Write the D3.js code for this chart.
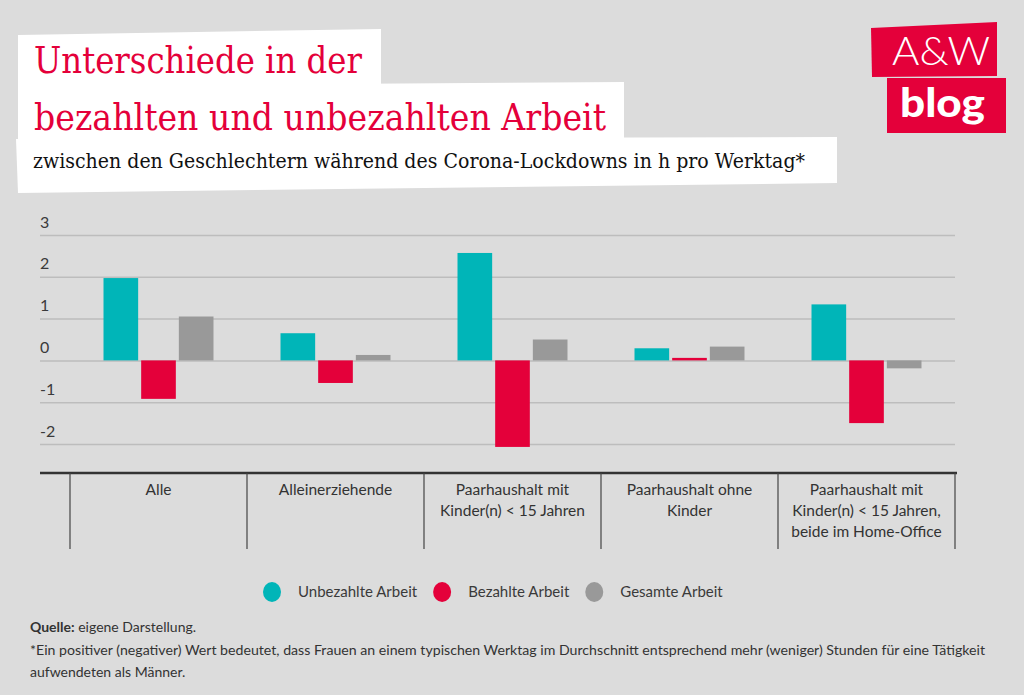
<!DOCTYPE html>
<html>
<head>
<meta charset="utf-8">
<script src="https://cdn.jsdelivr.net/npm/d3@7"></script>
<style>
  html, body { margin: 0; padding: 0; background: #dcdcdc; }
  svg { display: block; }
</style>
</head>
<body>
<svg id="chart" width="1024" height="695"></svg>
<script>
// ---------------- DATA ----------------
const categories = ["Alle", "Alleinerziehende", "Paarhaushalt mit Kinder(n) < 15 Jahren", "Paarhaushalt ohne Kinder", "Paarhaushalt mit Kinder(n) < 15 Jahren, beide im Home-Office"];
const categoryLines = [
  ["Alle"],
  ["Alleinerziehende"],
  ["Paarhaushalt mit", "Kinder(n) < 15 Jahren"],
  ["Paarhaushalt ohne", "Kinder"],
  ["Paarhaushalt mit", "Kinder(n) < 15 Jahren,", "beide im Home-Office"]
];
const seriesNames = ["Unbezahlte Arbeit", "Bezahlte Arbeit", "Gesamte Arbeit"];
const unbezahlteArbeit = [1.97, 0.65, 2.57, 0.29, 1.34];
const bezahlteArbeit = [-0.92, -0.54, -2.07, 0.06, -1.50];
const gesamteArbeit = [1.05, 0.13, 0.50, 0.33, -0.19];
const yTicks = [-2, -1, 0, 1, 2, 3];
const yTickLabels = ["-2", "-1", "0", "1", "2", "3"];

const titleLine1 = "Unterschiede in der";
const titleLine2 = "bezahlten und unbezahlten Arbeit";
const subtitle = "zwischen den Geschlechtern während des Corona-Lockdowns in h pro Werktag*";
const sourceLabel = "Quelle:";
const sourceText = " eigene Darstellung.";
const noteLine1 = "*Ein positiver (negativer) Wert bedeutet, dass Frauen an einem typischen Werktag im Durchschnitt entsprechend mehr (weniger) Stunden für eine Tätigkeit";
const noteLine2 = "aufwendeten als Männer.";

// ---------------- STYLE ----------------
const colors = ["#00b5b8", "#e4003a", "#999999"];
const red = "#e4003a";
const sans = "Lato, 'Open Sans', sans-serif";
const serif = "'DejaVu Serif', serif";

const svg = d3.select("#chart");
svg.append("rect").attr("width", 1024).attr("height", 695).attr("fill", "#dcdcdc");

// ---------------- TITLE BOXES ----------------
const boxes = [
  [[18, 35], [381, 29], [381, 87], [18, 87]],
  [[18, 86], [624, 82], [624, 141], [18, 141]],
  [[16, 139], [837, 137], [837, 183], [18, 193]]
];
boxes.forEach(b => {
  svg.append("path").attr("d", d3.line()(b) + "Z").attr("fill", "#ffffff");
});

function fitText(sel, width) {
  sel.attr("textLength", width).attr("lengthAdjust", "spacingAndGlyphs");
}

fitText(svg.append("text").attr("x", 34).attr("y", 73)
  .attr("font-family", serif).attr("font-size", 37).attr("fill", red)
  .text(titleLine1), 328);
fitText(svg.append("text").attr("x", 34).attr("y", 130)
  .attr("font-family", serif).attr("font-size", 37).attr("fill", red)
  .text(titleLine2), 572);
fitText(svg.append("text").attr("x", 33).attr("y", 168)
  .attr("font-family", serif).attr("font-size", 21).attr("fill", "#111")
  .text(subtitle), 772);

// ---------------- LOGO ----------------
svg.append("path").attr("d", d3.line()([[871, 28], [997, 22], [997, 76], [872, 77]]) + "Z").attr("fill", red);
svg.append("path").attr("d", d3.line()([[887, 78], [1006, 78], [1006, 133], [887, 133]]) + "Z").attr("fill", red);
fitText(svg.append("text").attr("x", 892).attr("y", 65)
  .attr("font-family", sans).attr("font-weight", 300).attr("font-size", 39).attr("fill", "#fff")
  .text("A&W"), 98);
fitText(svg.append("text").attr("x", 900).attr("y", 117)
  .attr("font-family", sans).attr("font-weight", 900).attr("font-size", 40).attr("fill", "#fff")
  .text("blog"), 85);

// ---------------- SCALES ----------------
const y = d3.scaleLinear().domain([-2, 3]).range([444, 235]);
const x0 = d3.scaleBand().domain(categories).range([70, 955]).padding(0);
const x1 = d3.scaleBand().domain(seriesNames).range([33.5, 143.5]).paddingInner(0.08).paddingOuter(0);

// ---------------- GRID / Y AXIS ----------------
const gridLeft = 40, gridRight = 955;
const yAxis = d3.axisRight(y).tickValues(yTicks)
  .tickSize(gridRight - gridLeft)
  .tickFormat((d, i) => yTickLabels[i]);
const gy = svg.append("g").attr("transform", `translate(${gridLeft},0)`).call(yAxis);
gy.select(".domain").remove();
gy.selectAll(".tick line").attr("stroke", "#bdbdbd").attr("stroke-width", 1.5);
gy.selectAll(".tick text")
  .attr("x", 0).attr("dy", null).attr("y", -8)
  .attr("text-anchor", "start")
  .attr("font-family", sans).attr("font-size", 16).attr("fill", "#3a3a3a");

// ---------------- BARS ----------------
const seriesValues = [unbezahlteArbeit, bezahlteArbeit, gesamteArbeit];
const rows = categories.map((c, i) => ({
  cat: c,
  vals: seriesNames.map((s, j) => ({ s, j, v: seriesValues[j][i] }))
}));
const groups = svg.append("g").selectAll("g").data(rows).join("g")
  .attr("transform", d => `translate(${x0(d.cat)},0)`);
groups.selectAll("rect").data(d => d.vals).join("rect")
  .attr("x", d => x1(d.s))
  .attr("width", x1.bandwidth())
  .attr("y", d => y(Math.max(0, d.v)))
  .attr("height", d => Math.abs(y(d.v) - y(0)))
  .attr("fill", d => colors[d.j]);

// ---------------- X AXIS ----------------
const axisY = 473;
svg.append("line").attr("x1", 40).attr("x2", 957).attr("y1", axisY).attr("y2", axisY)
  .attr("stroke", "#333").attr("stroke-width", 2.5);
const bounds = categories.map(c => x0(c)).concat([x0.range()[1]]);
svg.append("g").selectAll("line").data(bounds).join("line")
  .attr("x1", d => d).attr("x2", d => d)
  .attr("y1", axisY).attr("y2", 549)
  .attr("stroke", "#444").attr("stroke-width", 1.2);

const labels = svg.append("g").selectAll("text").data(categories).join("text")
  .attr("font-family", sans).attr("font-size", 15.5).attr("fill", "#333")
  .attr("text-anchor", "middle");
labels.each(function(c, i) {
  const t = d3.select(this);
  categoryLines[i].forEach((line, k) => {
    t.append("tspan")
      .attr("x", x0(c) + x0.bandwidth() / 2)
      .attr("y", 495 + k * 21)
      .text(line);
  });
});

// ---------------- LEGEND ----------------
const legend = svg.append("g");
let lx = 272;
seriesNames.forEach((s, j) => {
  legend.append("ellipse").attr("cx", lx).attr("cy", 592).attr("rx", 9).attr("ry", 10).attr("fill", colors[j]);
  const t = legend.append("text").attr("x", lx + 26).attr("y", 597)
    .attr("font-family", sans).attr("font-size", 15).attr("fill", "#3a3a3a").text(s);
  const w = t.node().getComputedTextLength();
  lx = lx + 26 + w + 25;
});

// ---------------- FOOTER ----------------
const src = svg.append("text").attr("x", 30).attr("y", 632)
  .attr("font-family", sans).attr("font-size", 14).attr("fill", "#333");
src.append("tspan").attr("font-weight", 700).text(sourceLabel);
src.append("tspan").text(sourceText);
fitText(svg.append("text").attr("x", 30).attr("y", 655)
  .attr("font-family", sans).attr("font-size", 14).attr("fill", "#333")
  .text(noteLine1), 955);
svg.append("text").attr("x", 30).attr("y", 677)
  .attr("font-family", sans).attr("font-size", 14).attr("fill", "#333")
  .text(noteLine2);
</script>
</body>
</html>
